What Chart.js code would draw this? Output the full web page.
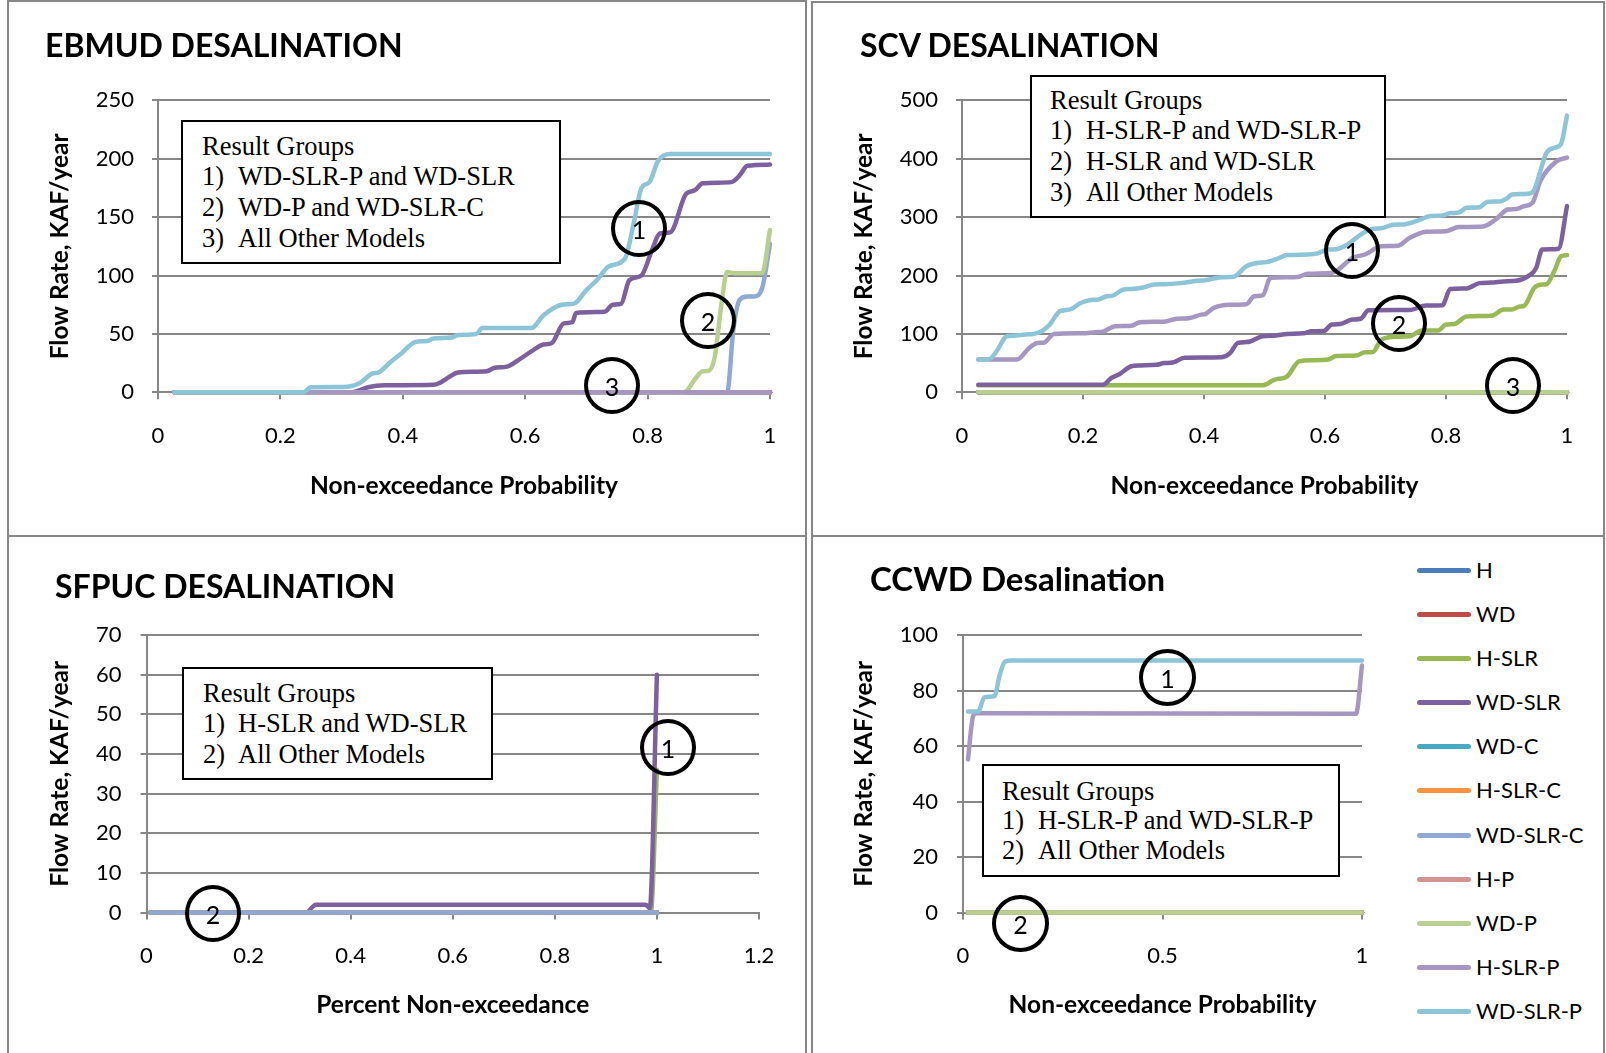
<!DOCTYPE html>
<html>
<head>
<meta charset="utf-8">
<title>Desalination flow rates</title>
<script src="https://cdn.jsdelivr.net/npm/chart.js@4.4.1/dist/chart.umd.min.js"></script>
<style>
  html, body { margin: 0; padding: 0; background: #fff; }
  #page { position: relative; width: 1606px; height: 1053px; overflow: hidden; background: #fff; font-family: Lato, sans-serif; color: #000; }
  .cell { position: absolute; border: 2px solid #878787; box-sizing: border-box; }
  canvas.cv { position: absolute; }
  .ttl { position: absolute; font-family: Lato, sans-serif; font-weight: bold; font-size: 32px; line-height: 32px; white-space: nowrap; }
  .note { position: absolute; border: 2px solid #000; background: #fff; box-sizing: border-box; }
  .nl { position: absolute; font-family: "Liberation Serif", "Times New Roman", serif; font-size: 26.5px; line-height: 30px; height: 30px; white-space: nowrap; }
  .ring { position: absolute; border: 4px solid #000; border-radius: 50%; box-sizing: border-box; font-family: Lato, sans-serif; font-size: 25px; display: flex; align-items: center; justify-content: center; }
  .lgline { position: absolute; height: 5px; border-radius: 3px; }
  .lgtext { position: absolute; font-family: Lato, sans-serif; font-size: 22px; line-height: 30px; height: 30px; white-space: nowrap; }
</style>
</head>
<body>
<div id="page">
  <div class="cell" style="left:7px;top:0;width:800px;height:537px"></div>
  <div class="cell" style="left:811px;top:1px;width:794px;height:536px"></div>
  <div class="cell" style="left:7px;top:535px;width:800px;height:540px"></div>
  <div class="cell" style="left:811px;top:535px;width:794px;height:540px"></div>

  <canvas class="cv" id="ebmud"></canvas>
  <canvas class="cv" id="scv"></canvas>
  <canvas class="cv" id="sfpuc"></canvas>
  <canvas class="cv" id="ccwd"></canvas>

  <div class="ttl" style="left:45px;top:29px">EBMUD DESALINATION</div>
  <div class="ttl" style="left:860px;top:29px">SCV DESALINATION</div>
  <div class="ttl" style="left:55px;top:570px">SFPUC DESALINATION</div>
  <div class="ttl" style="left:870px;top:562px;font-size:33px">CCWD Desalination</div>

  <!-- result group boxes -->
  <div class="note" style="left:181px;top:120px;width:380px;height:144px"></div>
  <div class="nl" style="left:202px;top:131px">Result Groups</div>
  <div class="nl" style="left:202px;top:161px">1)</div><div class="nl" style="left:238px;top:161px">WD-SLR-P and WD-SLR</div>
  <div class="nl" style="left:202px;top:192px">2)</div><div class="nl" style="left:238px;top:192px">WD-P and WD-SLR-C</div>
  <div class="nl" style="left:202px;top:223px">3)</div><div class="nl" style="left:238px;top:223px">All Other Models</div>

  <div class="note" style="left:1030px;top:75px;width:356px;height:143px"></div>
  <div class="nl" style="left:1050px;top:85px">Result Groups</div>
  <div class="nl" style="left:1050px;top:115px">1)</div><div class="nl" style="left:1086px;top:115px">H-SLR-P and WD-SLR-P</div>
  <div class="nl" style="left:1050px;top:146px">2)</div><div class="nl" style="left:1086px;top:146px">H-SLR and WD-SLR</div>
  <div class="nl" style="left:1050px;top:177px">3)</div><div class="nl" style="left:1086px;top:177px">All Other Models</div>

  <div class="note" style="left:182px;top:667px;width:311px;height:113px"></div>
  <div class="nl" style="left:203px;top:678px">Result Groups</div>
  <div class="nl" style="left:203px;top:708px">1)</div><div class="nl" style="left:238px;top:708px">H-SLR and WD-SLR</div>
  <div class="nl" style="left:203px;top:739px">2)</div><div class="nl" style="left:238px;top:739px">All Other Models</div>

  <div class="note" style="left:982px;top:764px;width:358px;height:113px"></div>
  <div class="nl" style="left:1002px;top:776px">Result Groups</div>
  <div class="nl" style="left:1002px;top:805px">1)</div><div class="nl" style="left:1038px;top:805px">H-SLR-P and WD-SLR-P</div>
  <div class="nl" style="left:1002px;top:835px">2)</div><div class="nl" style="left:1038px;top:835px">All Other Models</div>

  <!-- group markers -->
  <div class="ring" style="left:611px;top:200px;width:56px;height:57px">1</div>
  <div class="ring" style="left:680px;top:292px;width:56px;height:57px">2</div>
  <div class="ring" style="left:584px;top:357px;width:56px;height:57px">3</div>
  <div class="ring" style="left:1324px;top:222px;width:56px;height:57px">1</div>
  <div class="ring" style="left:1371px;top:295px;width:56px;height:57px">2</div>
  <div class="ring" style="left:1485px;top:357px;width:56px;height:57px">3</div>
  <div class="ring" style="left:640px;top:719px;width:56px;height:57px">1</div>
  <div class="ring" style="left:185px;top:885px;width:56px;height:57px">2</div>
  <div class="ring" style="left:1139px;top:649px;width:57px;height:57px">1</div>
  <div class="ring" style="left:992px;top:895px;width:57px;height:57px">2</div>

  <div id="legend"></div>
</div>

<script>
// Model runs, in the order they are plotted and listed
const seriesNames = ['H', 'WD', 'H-SLR', 'WD-SLR', 'WD-C', 'H-SLR-C', 'WD-SLR-C', 'H-P', 'WD-P', 'H-SLR-P', 'WD-SLR-P'];
const seriesColors = ['#4a7ebb', '#be4b48', '#98b954', '#7d60a0', '#46aac5', '#f69240', '#90a8d4', '#d39391', '#b8cf90', '#a697c2', '#8cc4d8'];

// ---- EBMUD desalination (KAF/year vs non-exceedance probability)
const ebmudFlatX = [0.027, 1.0];
const ebmudFlatY = [0, 0];
const ebmudWdSlrX = [0.027, 0.317, 0.343, 0.37, 0.45, 0.46, 0.477, 0.49, 0.537, 0.55, 0.57, 0.59, 0.61, 0.63, 0.643, 0.663, 0.677, 0.683, 0.73, 0.743, 0.757, 0.77, 0.79, 0.807, 0.82, 0.837, 0.863, 0.877, 0.89, 0.937, 0.95, 0.963, 1.0];
const ebmudWdSlrY = [0, 0, 4.3, 6, 6.5, 8, 13.6, 17, 18, 21, 22, 28, 35, 41, 42, 59, 60, 68, 69, 75, 76, 96, 100, 121.6, 136, 137, 170, 173, 179, 180, 185.5, 194, 195];
const ebmudWdSlrCX = [0.027, 0.93, 0.94, 0.95, 0.963, 0.973, 0.987, 1.0];
const ebmudWdSlrCY = [0, 0, 53, 79, 82, 82, 89, 127];
const ebmudWdPX = [0.027, 0.86, 0.877, 0.89, 0.9, 0.91, 0.92, 0.93, 0.943, 0.987, 1.0];
const ebmudWdPY = [0, 0, 11, 18, 18.5, 31, 73, 103, 102, 102, 139];
const ebmudWdSlrPX = [0.027, 0.237, 0.25, 0.303, 0.33, 0.35, 0.36, 0.38, 0.397, 0.42, 0.44, 0.45, 0.48, 0.49, 0.52, 0.53, 0.61, 0.63, 0.66, 0.68, 0.7, 0.717, 0.737, 0.763, 0.777, 0.79, 0.803, 0.817, 0.837, 1.0];
const ebmudWdSlrPY = [0, 0, 4.3, 4.5, 8, 16, 17, 26, 33, 43, 44, 46, 47, 49, 50, 55, 55, 66, 75, 76, 87.5, 96, 108, 114.5, 144, 175, 180, 198, 204, 204];
const ebmudXTicks = [0, 0.2, 0.4, 0.6, 0.8, 1];
const ebmudYTicks = [0, 50, 100, 150, 200, 250];

// ---- SCV desalination
const scvFlatX = [0.027, 1.0];
const scvFlatY = [0, 0];
const scvHSlrX = [0.027, 0.497, 0.517, 0.537, 0.557, 0.578, 0.605, 0.618, 0.652, 0.666, 0.679, 0.693, 0.713, 0.74, 0.76, 0.787, 0.8, 0.814, 0.834, 0.875, 0.895, 0.909, 0.922, 0.929, 0.946, 0.959, 0.966, 0.98, 0.99, 1.0];
const scvHSlrY = [12, 12, 21.7, 27, 53, 55, 56, 62, 63, 68.6, 69, 90, 95, 96, 105.7, 106, 116, 117, 130, 131, 141.7, 142, 147, 148, 179, 184.6, 185, 210, 233, 235];
const scvWdSlrX = [0.027, 0.233, 0.247, 0.26, 0.28, 0.294, 0.321, 0.334, 0.348, 0.368, 0.429, 0.443, 0.456, 0.47, 0.476, 0.497, 0.517, 0.537, 0.564, 0.578, 0.598, 0.611, 0.625, 0.645, 0.659, 0.672, 0.74, 0.767, 0.794, 0.807, 0.834, 0.855, 0.875, 0.895, 0.916, 0.936, 0.949, 0.959, 0.973, 0.986, 1.0];
const scvWdSlrY = [13, 13, 24.6, 31, 44.6, 46, 47, 50, 51, 59, 60, 67, 84.6, 86, 87, 96, 97, 100, 101, 104.6, 105, 116, 117, 124.6, 126, 140.6, 141, 148.6, 149, 177, 178, 187, 188, 190, 191, 199, 213, 244.6, 245, 246, 319];
const scvHSlrPX = [0.027, 0.091, 0.111, 0.125, 0.135, 0.152, 0.2, 0.22, 0.233, 0.253, 0.28, 0.294, 0.334, 0.355, 0.375, 0.395, 0.402, 0.416, 0.443, 0.47, 0.483, 0.497, 0.51, 0.537, 0.557, 0.571, 0.605, 0.618, 0.632, 0.645, 0.666, 0.693, 0.72, 0.74, 0.767, 0.8, 0.821, 0.861, 0.882, 0.902, 0.916, 0.929, 0.943, 0.956, 0.983, 1.0];
const scvHSlrPY = [56, 56, 76, 84.6, 85, 100, 101, 103, 104, 113, 114, 120, 121, 126, 127, 133, 134, 144.6, 150, 151, 164.6, 166, 196, 197, 198, 203, 204, 207, 219, 230, 236, 250, 251, 264.6, 275, 276, 283, 284, 296, 313, 314, 319, 324.6, 362, 396, 402];
const scvWdSlrPX = [0.027, 0.044, 0.057, 0.074, 0.084, 0.105, 0.118, 0.132, 0.145, 0.162, 0.179, 0.196, 0.213, 0.226, 0.24, 0.247, 0.267, 0.28, 0.297, 0.318, 0.334, 0.361, 0.389, 0.402, 0.429, 0.449, 0.47, 0.49, 0.503, 0.524, 0.537, 0.571, 0.588, 0.605, 0.618, 0.632, 0.645, 0.659, 0.679, 0.693, 0.713, 0.733, 0.753, 0.774, 0.794, 0.807, 0.821, 0.834, 0.855, 0.868, 0.889, 0.902, 0.909, 0.936, 0.946, 0.956, 0.966, 0.98, 0.99, 1.0];
const scvWdSlrPY = [56, 56, 70, 96, 97, 99, 100, 104.6, 116, 139, 142, 153, 158, 159, 164.6, 165, 176, 177, 179, 184.6, 185, 187, 191, 192, 197, 198, 216, 222, 223, 230, 235, 236, 238, 244.6, 245, 250, 259, 270, 280, 281, 287, 288, 294, 302, 303, 307, 308, 316, 317, 326, 327, 333, 339, 340, 347, 379, 410, 419, 425, 474];
const scvXTicks = [0, 0.2, 0.4, 0.6, 0.8, 1];
const scvYTicks = [0, 100, 200, 300, 400, 500];

// ---- SFPUC desalination
const sfpucFlatX = [0.008, 1.0];
const sfpucFlatY = [0, 0];
const sfpucHSlrX = [0.008, 0.988, 1.0];
const sfpucHSlrY = [0, 0, 36];
const sfpucWdSlrX = [0.008, 0.312, 0.332, 0.978, 0.986, 1.0];
const sfpucWdSlrY = [0, 0, 2, 2, 1.1, 60];
const sfpucXTicks = [0, 0.2, 0.4, 0.6, 0.8, 1, 1.2];
const sfpucYTicks = [0, 10, 20, 30, 40, 50, 60, 70];

// ---- CCWD desalination
const ccwdFlatX = [0.0125, 1.0];
const ccwdFlatY = [0, 0];
const ccwdHSlrPX = [0.0125, 0.025, 0.033, 0.985, 1.0];
const ccwdHSlrPY = [55.2, 70.6, 71.8, 71.6, 89];
const ccwdWdSlrPX = [0.0125, 0.0376, 0.054, 0.079, 0.092, 0.105, 0.121, 1.0];
const ccwdWdSlrPY = [72.4, 72.4, 77.6, 78, 85.6, 90.4, 90.8, 90.8];
const ccwdXTicks = [0, 0.5, 1];
const ccwdYTicks = [0, 20, 40, 60, 80, 100];

const AXIS_GRAY = '#878787';
const FONT = 'Lato';
const TITLE_SIZE = 24.5;

function toPoints(xs, ys) {
  return xs.map((x, i) => ({ x: x, y: ys[i] }));
}
function fmtTick(v) {
  return String(Number(Number(v).toFixed(3)));
}

function drawPanel(cfg) {
  const c = document.getElementById(cfg.id);
  c.width = cfg.w; c.height = cfg.h;
  c.style.left = cfg.left + 'px'; c.style.top = cfg.top + 'px';
  c.style.width = cfg.w + 'px'; c.style.height = cfg.h + 'px';

  const datasets = cfg.series.map((s, i) => ({
    label: seriesNames[i],
    data: toPoints(s[0], s[1]),
    borderColor: seriesColors[i],
    backgroundColor: seriesColors[i],
    borderWidth: 4.5,
    pointRadius: 0,
    pointHoverRadius: 0,
    fill: false,
    cubicInterpolationMode: 'monotone',
    borderCapStyle: 'round',
    borderJoinStyle: 'round',
    clip: 8,
    order: cfg.series.length - i
  }));

  const xLast = cfg.xTicks[cfg.xTicks.length - 1];
  const yLast = cfg.yTicks[cfg.yTicks.length - 1];

  new Chart(c, {
    type: 'line',
    data: { datasets: datasets },
    options: {
      responsive: false,
      animation: false,
      events: [],
      layout: { padding: { top: cfg.padTop, right: 45, left: 0, bottom: 0 } },
      plugins: { legend: { display: false }, tooltip: { enabled: false } },
      scales: {
        x: {
          type: 'linear',
          min: cfg.xTicks[0],
          max: xLast,
          afterBuildTicks: (scale) => { scale.ticks = cfg.xTicks.map(v => ({ value: v })); },
          afterFit: (scale) => { scale.height = cfg.xH; },
          grid: { drawOnChartArea: false, drawTicks: true, tickLength: 7, color: AXIS_GRAY, lineWidth: 2 },
          border: { display: true, color: AXIS_GRAY, width: 2 },
          ticks: { color: '#000', font: { family: FONT, size: 22 }, padding: 23, maxRotation: 0, autoSkip: false, callback: fmtTick },
          title: { display: true, text: cfg.xTitle, color: '#000', padding: 0, font: { family: FONT, size: TITLE_SIZE, weight: 'bold', lineHeight: 1.2 } }
        },
        y: {
          type: 'linear',
          min: cfg.yTicks[0],
          max: yLast,
          afterBuildTicks: (scale) => { scale.ticks = cfg.yTicks.map(v => ({ value: v })); },
          afterFit: (scale) => { scale.width = cfg.yW; },
          grid: { drawOnChartArea: true, drawTicks: true, tickLength: 6, color: AXIS_GRAY, lineWidth: 2 },
          border: { display: true, color: AXIS_GRAY, width: 2 },
          ticks: { color: '#000', font: { family: FONT, size: 22 }, padding: cfg.yPad, autoSkip: false, callback: fmtTick },
          title: { display: true, text: 'Flow Rate, KAF/year', color: '#000', padding: 0, font: { family: FONT, size: TITLE_SIZE, weight: 'bold', lineHeight: 1.2 } }
        }
      }
    }
  });
}

const ebmudFlat = [ebmudFlatX, ebmudFlatY];
drawPanel({
  id: 'ebmud', left: 45, top: 60, w: 770, h: 441, yW: 113, xH: 108.7, padTop: 40.4, yPad: 18,
  xTicks: ebmudXTicks, yTicks: ebmudYTicks, xTitle: 'Non-exceedance Probability',
  series: [ebmudFlat, ebmudFlat, ebmudFlat, [ebmudWdSlrX, ebmudWdSlrY], ebmudFlat, ebmudFlat,
           [ebmudWdSlrCX, ebmudWdSlrCY], ebmudFlat, [ebmudWdPX, ebmudWdPY], ebmudFlat, [ebmudWdSlrPX, ebmudWdSlrPY]]
});

const scvFlat = [scvFlatX, scvFlatY];
drawPanel({
  id: 'scv', left: 849, top: 60, w: 763, h: 441, yW: 113, xH: 108.7, padTop: 40.4, yPad: 18,
  xTicks: scvXTicks, yTicks: scvYTicks, xTitle: 'Non-exceedance Probability',
  series: [scvFlat, scvFlat, [scvHSlrX, scvHSlrY], [scvWdSlrX, scvWdSlrY], scvFlat, scvFlat,
           scvFlat, scvFlat, scvFlat, [scvHSlrPX, scvHSlrPY], [scvWdSlrPX, scvWdSlrPY]]
});

const sfpucFlat = [sfpucFlatX, sfpucFlatY];
drawPanel({
  id: 'sfpuc', left: 45, top: 595, w: 759, h: 425, yW: 101.5, xH: 107.4, padTop: 40, yPad: 19,
  xTicks: sfpucXTicks, yTicks: sfpucYTicks, xTitle: 'Percent Non-exceedance',
  series: [sfpucFlat, sfpucFlat, [sfpucHSlrX, sfpucHSlrY], [sfpucWdSlrX, sfpucWdSlrY], sfpucFlat, sfpucFlat, sfpucFlat]
});

const ccwdFlat = [ccwdFlatX, ccwdFlatY];
drawPanel({
  id: 'ccwd', left: 849, top: 595, w: 558, h: 425, yW: 114, xH: 107.4, padTop: 40, yPad: 19,
  xTicks: ccwdXTicks, yTicks: ccwdYTicks, xTitle: 'Non-exceedance Probability',
  series: [ccwdFlat, ccwdFlat, ccwdFlat, ccwdFlat, ccwdFlat, ccwdFlat, ccwdFlat, ccwdFlat, ccwdFlat,
           [ccwdHSlrPX, ccwdHSlrPY], [ccwdWdSlrPX, ccwdWdSlrPY]]
});

// Shared legend listing all model runs
const legend = document.getElementById('legend');
seriesNames.forEach((name, i) => {
  const cy = 570.7 + i * 44.05;
  const ln = document.createElement('div');
  ln.className = 'lgline';
  ln.style.left = '1417px';
  ln.style.width = '54px';
  ln.style.top = (cy - 2.5) + 'px';
  ln.style.background = seriesColors[i];
  legend.appendChild(ln);
  const tx = document.createElement('div');
  tx.className = 'lgtext';
  tx.style.left = '1476px';
  tx.style.top = (cy - 15.5) + 'px';
  tx.textContent = name;
  legend.appendChild(tx);
});
</script>
</body>
</html>
